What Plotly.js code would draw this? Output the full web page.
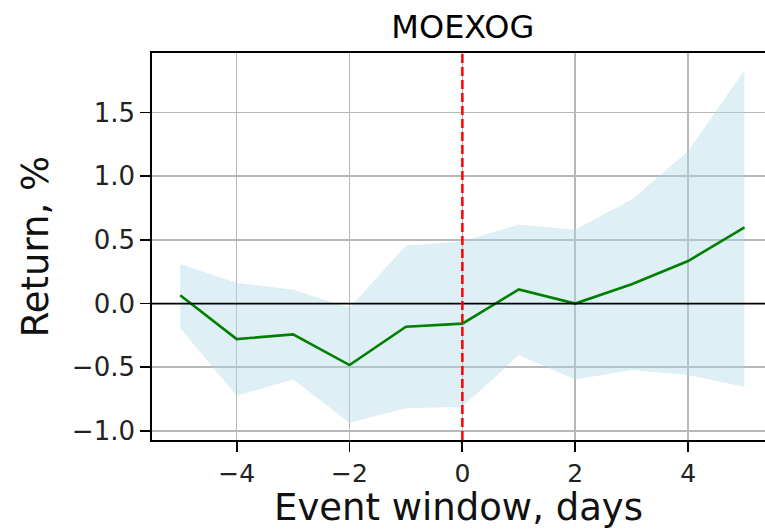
<!DOCTYPE html>
<html>
<head>
<meta charset="utf-8">
<script src="https://cdn.plot.ly/plotly-3.0.1.min.js"></script>
<style>html,body{margin:0;padding:0;background:#fff;}#chart{width:765px;height:529px;}</style>
</head>
<body>
<div id="chart"></div>
<script>
var days = [-5, -4, -3, -2, -1, 0, 1, 2, 3, 4, 5];
var meanReturn = [0.065, -0.279, -0.242, -0.483, -0.182, -0.158, 0.111, 0.0, 0.151, 0.334, 0.598];
var upperBand = [0.308, 0.159, 0.106, -0.038, 0.452, 0.486, 0.617, 0.577, 0.813, 1.192, 1.829];
var lowerBand = [-0.195, -0.724, -0.596, -0.936, -0.823, -0.81, -0.405, -0.596, -0.522, -0.562, -0.653];
var xTicks = [-4, -2, 0, 2, 4];
var xTickText = ['\u22124', '\u22122', '0', '2', '4'];
var yTicks = [-1.0, -0.5, 0.0, 0.5, 1.0, 1.5];
var yTickText = ['\u22121.0', '\u22120.5', '0.0', '0.5', '1.0', '1.5'];
var titleText = 'MOEXOG';
var xLabel = 'Event window, days';
var yLabel = 'Return, %';

var font = 'DejaVu Sans, sans-serif';

var traces = [
  {x: days, y: lowerBand, type: 'scatter', mode: 'lines', line: {width: 0, color: 'rgba(173,216,230,0.4)'}, hoverinfo: 'skip', showlegend: false},
  {x: days, y: upperBand, type: 'scatter', mode: 'lines', fill: 'tonexty', fillcolor: 'rgba(173,216,230,0.4)', line: {width: 0.5, color: 'rgba(173,216,230,0.4)'}, showlegend: false},
  {x: days, y: meanReturn, type: 'scatter', mode: 'lines', line: {color: '#008000', width: 2.6}, showlegend: false}
];

var layout = {
  width: 765, height: 529,
  margin: {l: 152, r: 0, t: 53, b: 89},
  paper_bgcolor: '#fff', plot_bgcolor: '#fff',
  font: {family: font, color: '#000'},
  title: {text: titleText, font: {size: 32, family: font, color: '#000'}, xref: 'paper', x: 0.507, xanchor: 'center', yref: 'container', y: 1 - 27/529, yanchor: 'middle'},
  xaxis: {
    range: [-5.5, 5.363], tickvals: xTicks, ticktext: xTickText,
    showgrid: true, gridcolor: '#b8b8b8', gridwidth: 1.5, zeroline: false,
    showline: true, linecolor: '#000', linewidth: 1.8, mirror: true,
    ticks: 'outside', ticklen: 10, tickwidth: 1.8, tickcolor: '#000',
    tickfont: {size: 25, family: font, color: '#222'},
    title: {text: xLabel, font: {size: 37, family: font, color: '#111'}, standoff: 7},
    automargin: false
  },
  yaxis: {
    range: [-1.072, 1.968], tickvals: yTicks, ticktext: yTickText,
    showgrid: true, gridcolor: '#b8b8b8', gridwidth: 1.5, zeroline: false,
    showline: true, linecolor: '#000', linewidth: 1.8, mirror: false,
    ticks: 'outside', ticklen: 10, tickwidth: 1.8, tickcolor: '#000',
    tickfont: {size: 26, family: font, color: '#222'},
    title: {text: yLabel, font: {size: 37, family: font, color: '#111'}, standoff: 12},
    automargin: false
  },
  shapes: [
    {type: 'line', xref: 'paper', x0: 0, x1: 1, yref: 'y', y0: 0, y1: 0, line: {color: '#000', width: 1.7}, layer: 'above'},
    {type: 'line', xref: 'x', x0: 0, x1: 0, yref: 'paper', y0: 0, y1: 1, line: {color: '#ff0000', width: 2.5, dash: '9px,4px'}, layer: 'above'}
  ]
};

Plotly.newPlot('chart', traces, layout, {displayModeBar: false, staticPlot: true});
</script>
</body>
</html>
